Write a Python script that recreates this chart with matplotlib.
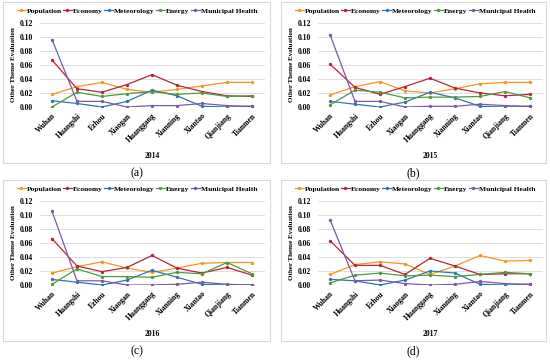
import matplotlib
matplotlib.use("Agg")
import matplotlib.pyplot as plt
from matplotlib.patches import Rectangle

plt.rcParams['font.family'] = ['Liberation Serif', 'DejaVu Serif']

cities = ['Wuhan', 'Huangshi', 'Ezhou', 'Xiaogan', 'Huanggang',
          'Xianning', 'Xiantao', 'Qianjiang', 'Tianmen']
years = ['2014', '2015', '2016', '2017']
panel_tags = ['(a)', '(b)', '(c)', '(d)']
series_names = ['Population', 'Economy', 'Meteorology', 'Energy', 'Municipal Health']

# one row per year: 2014, 2015, 2016, 2017
population = [
    [0.018, 0.029, 0.035, 0.025, 0.021, 0.025, 0.030, 0.035, 0.035],
    [0.017, 0.029, 0.036, 0.023, 0.020, 0.026, 0.033, 0.035, 0.035],
    [0.017, 0.026, 0.033, 0.024, 0.018, 0.024, 0.031, 0.032, 0.032],
    [0.015, 0.029, 0.033, 0.030, 0.015, 0.027, 0.042, 0.034, 0.035],
]
economy = [
    [0.067, 0.026, 0.021, 0.032, 0.046, 0.031, 0.022, 0.016, 0.015],
    [0.061, 0.028, 0.018, 0.029, 0.041, 0.027, 0.020, 0.016, 0.018],
    [0.066, 0.027, 0.019, 0.025, 0.042, 0.024, 0.017, 0.025, 0.014],
    [0.063, 0.028, 0.028, 0.015, 0.038, 0.027, 0.015, 0.016, 0.016],
]
meteorology = [
    [0.009, 0.005, 0.000, 0.008, 0.024, 0.016, 0.001, 0.000, 0.001],
    [0.008, 0.004, 0.000, 0.007, 0.021, 0.013, 0.001, 0.000, 0.001],
    [0.008, 0.004, 0.000, 0.007, 0.021, 0.011, 0.001, 0.000, 0.000],
    [0.008, 0.006, 0.000, 0.007, 0.020, 0.017, 0.001, 0.000, 0.001],
]
energy = [
    [0.000, 0.021, 0.015, 0.019, 0.022, 0.018, 0.020, 0.015, 0.016],
    [0.003, 0.024, 0.021, 0.013, 0.014, 0.014, 0.015, 0.022, 0.013],
    [0.001, 0.023, 0.012, 0.012, 0.011, 0.018, 0.016, 0.032, 0.016],
    [0.003, 0.014, 0.017, 0.013, 0.014, 0.012, 0.015, 0.018, 0.016],
]
municipal_health = [
    [0.096, 0.008, 0.008, 0.000, 0.002, 0.002, 0.005, 0.002, 0.001],
    [0.103, 0.008, 0.008, 0.000, 0.001, 0.001, 0.004, 0.002, 0.001],
    [0.105, 0.006, 0.006, 0.000, 0.000, 0.001, 0.004, 0.001, 0.000],
    [0.093, 0.006, 0.007, 0.002, 0.000, 0.001, 0.005, 0.002, 0.001],
]
y_ticks = [0.00, 0.02, 0.04, 0.06, 0.08, 0.10, 0.12]

colors = ['#F7941D', '#B8233A', '#2E75B6', '#4E9A3E', '#7B5AA6']
all_series = [population, economy, meteorology, energy, municipal_health]

W, H = 550, 360
fig = plt.figure(figsize=(5.5, 3.6), dpi=100)


def px_rect(x0, y0, x1, y1):
    """pixel box (top-left origin) -> figure fraction rect"""
    return [x0 / W, 1 - y1 / H, (x1 - x0) / W, (y1 - y0) / H]


for k, year in enumerate(years):
    col, row = k % 2, k // 2
    dx, dy = col * 278, row * 178

    # light frame around each chart
    fx0, fy0, fx1, fy1 = 3 + dx, 2 + dy, 270 + dx - (2 if col else 0), 163 + dy
    fig.patches.append(Rectangle((fx0 / W, 1 - fy1 / H), (fx1 - fx0) / W, (fy1 - fy0) / H,
                                 transform=fig.transFigure, fill=False,
                                 edgecolor='#d9d9d9', lw=0.8))

    ax = fig.add_axes(px_rect(39.5 + dx, 22.7 + dy, 264.5 + dx, 107 + dy))
    x = range(len(cities))
    for name, data, c in zip(series_names, all_series, colors):
        ax.plot(x, data[k], color=c, lw=0.9, marker='o', ms=1.4, label=name)

    ax.set_xlim(-0.5, len(cities) - 0.5)
    ax.set_ylim(0, 0.12)
    ax.set_yticks(y_ticks)
    ax.set_yticklabels([f'{v:.2f}' for v in y_ticks], fontsize=5.5, fontweight='bold')
    ax.set_xticks(list(x))
    ax.set_xticklabels(cities, rotation=45, ha='right', rotation_mode='anchor',
                       fontsize=5.5, fontweight='bold')
    ax.tick_params(axis='y', length=0, pad=4.5)
    ax.tick_params(axis='x', length=0, pad=3.5)
    ax.grid(axis='y', color='#d9d9d9', lw=0.6)
    ax.set_axisbelow(True)
    for s in ax.spines.values():
        s.set_visible(False)

    ax.set_ylabel('Other Theme Evaluation', fontsize=5, fontweight='bold', labelpad=3)
    ax.set_xlabel(year, fontsize=5.5, fontweight='bold', labelpad=6)

    ax.legend(loc='center', bbox_to_anchor=(0.433, 1.14), ncol=5, frameon=False,
              prop={'size': 5.4, 'weight': 'bold'}, handlelength=1.2, handletextpad=0.15,
              columnspacing=0.15, borderpad=0, borderaxespad=0)

    fig.text((fx0 + fx1) / 2 / W, 1 - (173 + dy) / H, panel_tags[k],
             ha='center', va='center', fontsize=8.5)

fig.savefig('out.png', dpi=100)
